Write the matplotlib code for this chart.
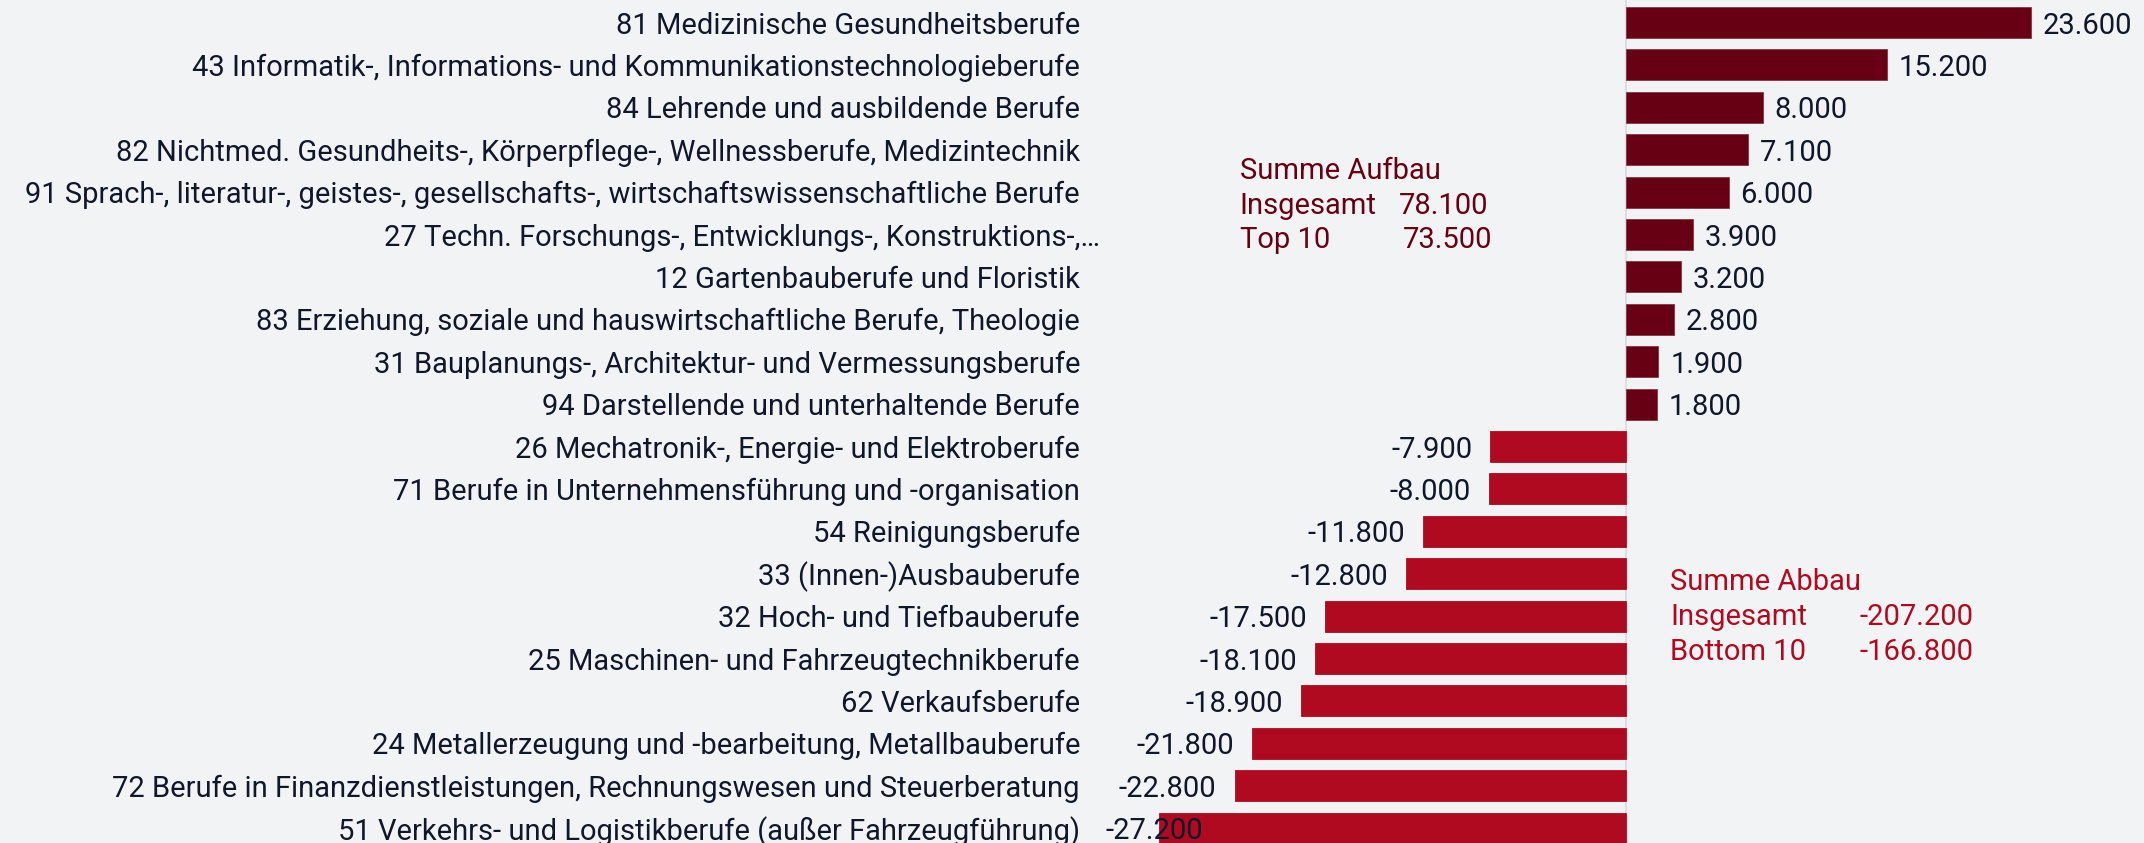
import numpy as np
import matplotlib.pyplot as plt
from matplotlib.transforms import ScaledTranslation

# Berufsgruppen, sortiert: Top 10 Aufbau, dann Bottom 10 Abbau
labels = [
    "81 Medizinische Gesundheitsberufe",
    "43 Informatik-, Informations- und Kommunikationstechnologieberufe",
    "84 Lehrende und ausbildende Berufe",
    "82 Nichtmed. Gesundheits-, Körperpflege-, Wellnessberufe, Medizintechnik",
    "91 Sprach-, literatur-, geistes-, gesellschafts-, wirtschaftswissenschaftliche Berufe",
    "27 Techn. Forschungs-, Entwicklungs-, Konstruktions-,…",
    "12 Gartenbauberufe und Floristik",
    "83 Erziehung, soziale und hauswirtschaftliche Berufe, Theologie",
    "31 Bauplanungs-, Architektur- und Vermessungsberufe",
    "94 Darstellende und unterhaltende Berufe",
    "26 Mechatronik-, Energie- und Elektroberufe",
    "71 Berufe in Unternehmensführung und -organisation",
    "54 Reinigungsberufe",
    "33 (Innen-)Ausbauberufe",
    "32 Hoch- und Tiefbauberufe",
    "25 Maschinen- und Fahrzeugtechnikberufe",
    "62 Verkaufsberufe",
    "24 Metallerzeugung und -bearbeitung, Metallbauberufe",
    "72 Berufe in Finanzdienstleistungen, Rechnungswesen und Steuerberatung",
    "51 Verkehrs- und Logistikberufe (außer Fahrzeugführung)",
]
values = [23.6, 15.2, 8.0, 7.1, 6.0, 3.9, 3.2, 2.8, 1.9, 1.8,
          -7.9, -8.0, -11.8, -12.8, -17.5, -18.1, -18.9, -21.8, -22.8, -27.2]

sum_up_total = "78.100"
sum_up_top = "73.500"
sum_down_total = "-207.200"
sum_down_bottom = "-166.800"

bg = "#f2f3f5"
pos_color = "#670012"
neg_color = "#b00a20"
text_color = "#0f172a"

plt.rcParams['font.family'] = ['Roboto', 'DejaVu Sans']
fs = 21

def fmt(v):
    s = f"{abs(v) * 1000:,.0f}".replace(",", ".")
    return ("-" if v < 0 else "") + s

fig = plt.figure(figsize=(21.44, 8.43), dpi=100, facecolor=bg)
ax = fig.add_axes([1105 / 2144, 0, 1 - 1105 / 2144, 1])
ax.set_facecolor(bg)

y = np.arange(len(values))
colors = [pos_color if v > 0 else neg_color for v in values]
edges = ["#8a3445" if v > 0 else neg_color for v in values]
ax.barh(y, values, height=0.73, color=colors, edgecolor=edges, linewidth=0.6, zorder=2)
ax.axvline(0, color="#dcdde0", lw=1.5, zorder=1)

ax.set_xlim(-30.35, 30.2)
ax.set_ylim(19.35, -0.531)
ax.set_yticks(y)
ax.set_yticklabels(labels, fontsize=fs, color=text_color)
ax.tick_params(axis='y', length=0, pad=18)
ax.set_xticks([])
for s in ax.spines.values():
    s.set_visible(False)

# gekürzte Beschriftung ragt im Original etwas weiter nach rechts
for lbl in ax.get_yticklabels():
    if lbl.get_text().endswith("…"):
        lbl.set_transform(lbl.get_transform() + ScaledTranslation(0.2, 0, fig.dpi_scale_trans))

# Wertebeschriftungen
texts = []
for yi, v in zip(y, values):
    if v > 0:
        t = ax.annotate(fmt(v), (v, yi), xytext=(8.5, 0), textcoords="offset points",
                        ha="left", va="center_baseline", fontsize=fs, color=text_color, zorder=3)
    else:
        t = ax.annotate(fmt(v), (v, yi), xytext=(-13, 0), textcoords="offset points",
                        ha="right", va="center_baseline", fontsize=fs, color=text_color, zorder=3)
    texts.append(t)

# Beschriftungen, die links aus der Achse ragen, an den Rand schieben
fig.canvas.draw()
r = fig.canvas.get_renderer()
ax_x0 = ax.get_window_extent(r).x0
for t, yi in zip(texts, y):
    if t.get_window_extent(r).x0 < ax_x0:
        t.remove()
        ax.text(ax.get_xlim()[0], yi, fmt(values[yi]), ha="left", va="center_baseline",
                fontsize=fs, color=text_color, zorder=3)

# Summen
kw_up = dict(fontsize=fs, color=pos_color, va="center_baseline")
ax.text(-22.5, 3.42, "Summe Aufbau", **kw_up)
ax.text(-22.5, 4.25, "Insgesamt", **kw_up)
ax.text(-13.2, 4.25, sum_up_total, **kw_up)
ax.text(-22.5, 5.07, "Top 10", **kw_up)
ax.text(-13.0, 5.07, sum_up_top, **kw_up)

kw_down = dict(fontsize=fs, color=neg_color, va="center_baseline")
ax.text(2.6, 13.12, "Summe Abbau", **kw_down)
ax.text(2.6, 13.96, "Insgesamt", **kw_down)
ax.text(13.6, 13.96, sum_down_total, **kw_down)
ax.text(2.6, 14.77, "Bottom 10", **kw_down)
ax.text(13.6, 14.77, sum_down_bottom, **kw_down)

plt.savefig("out.png", dpi=100, facecolor=bg)
